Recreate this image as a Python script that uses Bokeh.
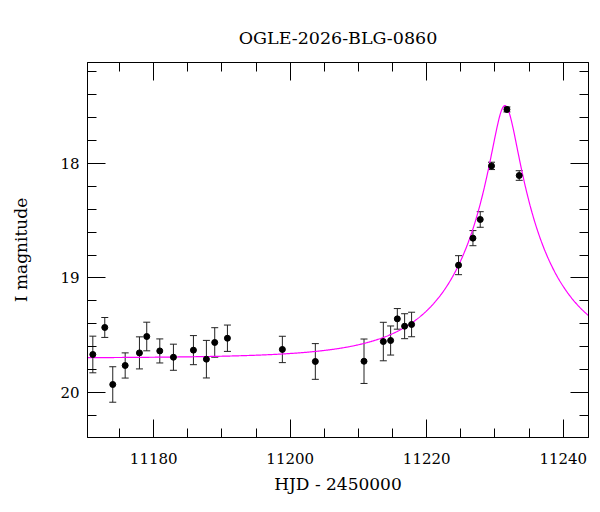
import numpy as np
from bokeh.plotting import figure
from bokeh.models import (ColumnDataSource, Whisker, TeeHead, Range1d, LinearAxis,
                          SingleIntervalTicker, CustomJSTickFormatter)
from bokeh.embed import file_html
from bokeh.resources import INLINE

# Observations (HJD - 2450000, I magnitude, error)
hjd = [11171.08, 11172.83, 11174.00, 11175.82, 11177.91, 11178.98, 11180.89,
       11182.89, 11185.82, 11187.72, 11188.94, 11190.80, 11198.85, 11203.68,
       11210.81, 11213.64, 11214.71, 11215.69, 11216.76, 11217.78, 11224.66,
       11226.77, 11227.84, 11229.49, 11231.75, 11233.55]
mag = [19.668, 19.432, 19.930, 19.764, 19.654, 19.511, 19.637,
       19.692, 19.630, 19.709, 19.563, 19.526, 19.624, 19.729,
       19.727, 19.555, 19.546, 19.357, 19.421, 19.406, 18.888,
       18.652, 18.489, 18.021, 17.528, 18.105]
err = [0.160, 0.087, 0.155, 0.110, 0.140, 0.125, 0.105,
       0.114, 0.127, 0.164, 0.129, 0.115, 0.115, 0.156,
       0.194, 0.168, 0.127, 0.090, 0.109, 0.107, 0.083,
       0.066, 0.068, 0.032, 0.022, 0.042]

# Point-lens (Paczynski) model parameters
t0 = 11231.46
tE = 13.5
u0 = 0.132
I_base = 19.70

x_start, x_end = 11170.3, 11243.7
y_bottom, y_top = 20.393, 17.118

t_model = np.linspace(x_start, x_end, 800)
u = np.sqrt(u0**2 + ((t_model - t0) / tE) ** 2)
A = (u**2 + 2) / (u * np.sqrt(u**2 + 4))
m_model = I_base - 2.5 * np.log10(A)

FONT = "DejaVu Serif"

src = ColumnDataSource(dict(x=hjd, y=mag,
                            lo=[m + e for m, e in zip(mag, err)],
                            hi=[m - e for m, e in zip(mag, err)]))

p = figure(width=600, height=512, output_backend="svg", toolbar_location=None,
           x_range=Range1d(x_start, x_end), y_range=Range1d(y_bottom, y_top),
           min_border_left=87, min_border_right=12, min_border_top=62,
           min_border_bottom=75, title="OGLE-2026-BLG-0860")
p.title.align = "center"
p.title.text_font = FONT
p.title.text_font_size = "17.5px"
p.title.text_font_style = "normal"
p.title.text_color = "black"
p.title.standoff = 29

p.grid.visible = False
p.outline_line_color = "black"
p.outline_line_width = 1
p.background_fill_color = "white"
p.border_fill_color = "white"

xt = SingleIntervalTicker(interval=20, num_minor_ticks=4)
yt = SingleIntervalTicker(interval=1, num_minor_ticks=5)

def style(ax):
    ax.axis_line_color = "black"
    ax.major_tick_in = 18
    ax.major_tick_out = 0
    ax.minor_tick_in = 9
    ax.minor_tick_out = 0
    ax.major_tick_line_color = "black"
    ax.minor_tick_line_color = "black"
    ax.major_label_text_font = FONT
    ax.major_label_text_font_size = "15px"
    ax.major_label_text_color = "black"
    ax.axis_label_text_font = FONT
    ax.axis_label_text_font_size = "17px"
    ax.axis_label_text_font_style = "normal"
    ax.axis_label_text_color = "black"

xa = p.xaxis[0]
xa.ticker = xt
style(xa)
xa.axis_label = "HJD - 2450000"
xa.major_label_standoff = 15
xa.axis_label_standoff = 7

ya = p.yaxis[0]
ya.ticker = yt
style(ya)
ya.axis_label = "I magnitude"
ya.major_label_standoff = 8
ya.axis_label_standoff = 26

blank = CustomJSTickFormatter(code="return ''")
top = LinearAxis(ticker=xt, formatter=blank)
style(top)
top.major_label_standoff = 0
p.add_layout(top, "above")
right = LinearAxis(ticker=yt, formatter=blank)
style(right)
right.major_label_standoff = 0
p.add_layout(right, "right")

p.line(t_model, m_model, line_color="#ff00ff", line_width=1.2)

w = Whisker(source=src, base="x", upper="hi", lower="lo", dimension="height",
            line_color="#222222", line_width=1,
            upper_head=TeeHead(size=7, line_color="#222222", line_width=1),
            lower_head=TeeHead(size=7, line_color="#222222", line_width=1))
p.add_layout(w)
p.scatter("x", "y", source=src, size=6, color="black")

open("out.html", "w").write(file_html(p, INLINE))
